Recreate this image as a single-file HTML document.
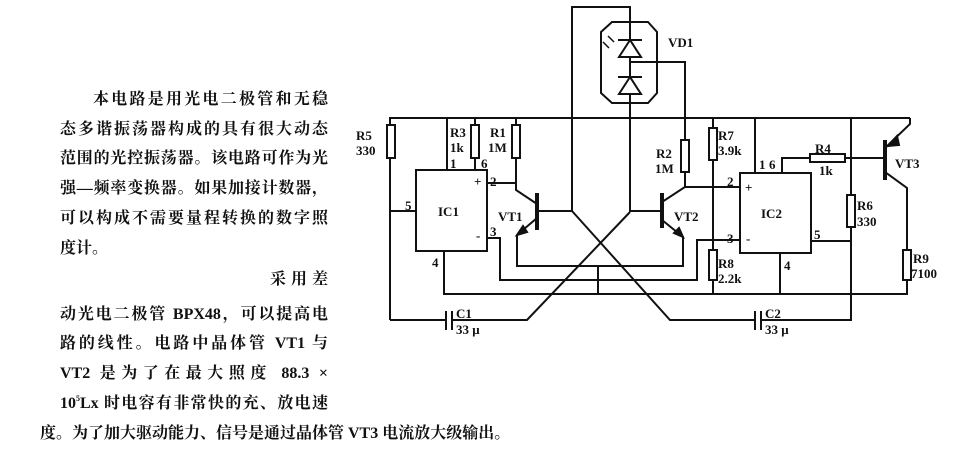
<!DOCTYPE html><html><head><meta charset="utf-8"><style>
body{margin:0;background:#fff;width:955px;height:454px;overflow:hidden;position:relative;font-family:"Liberation Serif","Noto Serif CJK SC",serif}
.t{position:absolute;left:60px;width:268px;font-size:16px;line-height:18px;height:18px;text-align:justify;text-align-last:justify;white-space:nowrap;color:#111;font-weight:bold}
sup{font-size:8px;line-height:0;vertical-align:0;position:relative;top:-7px}
svg{position:absolute;left:0;top:0}
svg text{font-family:"Liberation Serif",serif;font-weight:bold;font-size:13px;fill:#111}
</style></head><body>
<div class="t" style="top:91px;left:93px;width:235px">本电路是用光电二极管和无稳</div>
<div class="t" style="top:121px">态多谐振荡器构成的具有很大动态</div>
<div class="t" style="top:150px">范围的光控振荡器。该电路可作为光</div>
<div class="t" style="top:180px">强—频率变换器。如果加接计数器，</div>
<div class="t" style="top:210px">可以构成不需要量程转换的数字照</div>
<div class="t" style="top:240px;text-align-last:left">度计。</div>
<div class="t" style="top:271px;left:270px;width:58px">采用差</div>
<div class="t" style="top:306px">动光电二极管 BPX48，可以提高电</div>
<div class="t" style="top:335px">路的线性。电路中晶体管 VT1 与</div>
<div class="t" style="top:365px">VT2 是为了在最大照度 88.3 ×</div>
<div class="t" style="top:395px">10<sup>5</sup>Lx 时电容有非常快的充、放电速</div>
<div class="t" style="top:425px;left:40px;width:705px;text-align-last:left">度。为了加大驱动能力、信号是通过晶体管 VT3 电流放大级输出。</div>
<svg width="955" height="454" viewBox="0 0 955 454" fill="none" stroke="#111" stroke-width="2">
<polyline points="390,320 390,118 910,118"/>
<rect x="387" y="125" width="8" height="33" fill="#fff"/>
<line x1="390" y1="211" x2="416" y2="211"/>
<rect x="416" y="170" width="71" height="81" fill="#fff"/>
<line x1="447" y1="118" x2="447" y2="170"/>
<line x1="475" y1="118" x2="475" y2="170"/>
<rect x="471" y="125" width="8" height="33" fill="#fff"/>
<polyline points="516,118 516,190 537,204"/>
<rect x="512" y="125" width="8" height="33" fill="#fff"/>
<line x1="487" y1="183" x2="516" y2="183"/>
<line x1="537" y1="193" x2="537" y2="230" stroke-width="4"/>
<line x1="537" y1="211" x2="572" y2="211"/>
<polyline points="537,218 517,235 517,266 683,266 683,237 662,220"/>
<polygon points="517,235 523,226 527,232" fill="#111"/>
<polygon points="683,237 674,233 679,228" fill="#111"/>
<polyline points="487,238 500,238 500,280 697,280 697,240 740,240"/>
<polyline points="444,251 444,294 907,294 907,188 885,172"/>
<line x1="598" y1="266" x2="598" y2="294"/>
<polyline points="572,211 572,7 630,7 630,212"/>
<polygon points="612,22 648,22 657,32 657,93 648,103 612,103 601,93 601,32" fill="#fff"/>
<line x1="630" y1="7" x2="630" y2="212"/>
<polygon points="630,40 619,57 641,57" fill="#fff"/><line x1="618" y1="40" x2="642" y2="40"/>
<polygon points="630,77 619,94 641,94" fill="#fff"/><line x1="618" y1="77" x2="642" y2="77"/>
<polyline points="630,62 685,62 685,187 662,202"/>
<rect x="681" y="140" width="8" height="32" fill="#fff"/>
<line x1="608" y1="36" x2="614" y2="42" stroke-width="1.5"/><line x1="603" y1="42" x2="609" y2="48" stroke-width="1.5"/>
<line x1="662" y1="193" x2="662" y2="228" stroke-width="4"/>
<line x1="630" y1="211" x2="662" y2="211"/>
<line x1="685" y1="187" x2="740" y2="187"/>
<line x1="713" y1="118" x2="713" y2="294"/>
<rect x="709" y="128" width="8" height="32" fill="#fff"/>
<rect x="709" y="250" width="8" height="30" fill="#fff"/>
<polyline points="630,212 527,320 390,320"/>
<polyline points="572,211 670,320 851,320 851,118"/>
<line x1="448" y1="311" x2="448" y2="329" stroke="#fff" stroke-width="6"/>
<line x1="446" y1="311" x2="446" y2="330"/><line x1="452" y1="311" x2="452" y2="330"/>
<line x1="757" y1="311" x2="757" y2="329" stroke="#fff" stroke-width="6"/>
<line x1="755" y1="311" x2="755" y2="330"/><line x1="761" y1="311" x2="761" y2="330"/>
<rect x="740" y="173" width="71" height="80" fill="#fff"/>
<line x1="755" y1="118" x2="755" y2="173"/>
<polyline points="782,173 782,158 885,158"/>
<rect x="810" y="154" width="35" height="8" fill="#fff"/>
<rect x="847" y="195" width="8" height="32" fill="#fff"/>
<line x1="811" y1="241" x2="851" y2="241"/>
<line x1="780" y1="253" x2="780" y2="294"/>
<line x1="885" y1="140" x2="885" y2="180" stroke-width="4"/>
<polyline points="885,148 910,124 910,118"/>
<polygon points="888,146 897,136 899,145" fill="#111"/>
<rect x="903" y="250" width="8" height="30" fill="#fff"/>
<g stroke="none">
<text x="668" y="47" font-size="14">VD1</text>
<text x="356" y="140">R5</text><text x="356" y="155">330</text>
<text x="450" y="137">R3</text><text x="450" y="152">1k</text>
<text x="490" y="137">R1</text><text x="488" y="152">1M</text>
<text x="481" y="168">6</text><text x="450" y="168">1</text>
<text x="490" y="186">2</text><text x="490" y="236">3</text>
<text x="432" y="267">4</text><text x="405" y="210">5</text>
<text x="474" y="186" font-size="12">+</text><text x="476" y="240">-</text>
<text x="438" y="216" font-size="14">IC1</text>
<text x="498" y="221" font-size="14">VT1</text>
<text x="674" y="221" font-size="14">VT2</text>
<text x="656" y="158">R2</text><text x="655" y="173">1M</text>
<text x="718" y="140">R7</text><text x="718" y="155">3.9k</text>
<text x="727" y="186">2</text><text x="727" y="243">3</text>
<text x="759" y="169">1</text><text x="769" y="169">6</text>
<text x="745" y="192" font-size="12">+</text><text x="746" y="243">-</text>
<text x="761" y="218" font-size="14">IC2</text>
<text x="718" y="268">R8</text><text x="718" y="283">2.2k</text>
<text x="784" y="270">4</text><text x="814" y="239">5</text>
<text x="815" y="153">R4</text><text x="819" y="175">1k</text>
<text x="857" y="210">R6</text><text x="857" y="226">330</text>
<text x="895" y="168" font-size="14">VT3</text>
<text x="913" y="263">R9</text><text x="911" y="278">7100</text>
<text x="456" y="318">C1</text><text x="456" y="334">33 μ</text>
<text x="765" y="318">C2</text><text x="765" y="334">33 μ</text>
</g>
</svg>
</body></html>
